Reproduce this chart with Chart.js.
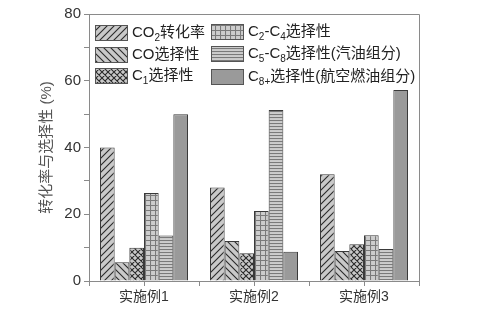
<!DOCTYPE html>
<html>
<head>
<meta charset="utf-8">
<script src="https://cdn.jsdelivr.net/npm/chart.js@4.4.0/dist/chart.umd.min.js"></script>
<style>
  html, body { margin: 0; padding: 0; background: #fff; }
  #wrap { width: 479px; height: 325px; }
</style>
</head>
<body>
<div id="wrap"><canvas id="chart"></canvas></div>
<script>
// ===================== DATA =====================
const categories = ['实施例1', '实施例2', '实施例3'];
const co2Conversion = [40, 28, 32];
const coSelectivity = [5.6, 12, 9];
const c1Selectivity = [10, 8.3, 11];
const c2c4Selectivity = [26.4, 21, 13.7];
const c5c8Selectivity = [13.6, 51.2, 9.6];
const c8Selectivity = [50, 8.8, 57.2];
const yTickLabels = [0, 20, 40, 60, 80];

const FONT = '"Liberation Sans", "Noto Sans CJK SC", sans-serif';

// ===================== HATCH PATTERNS =====================
const canvas = document.getElementById('chart');
const ctx = canvas.getContext('2d');

function makePattern(size, bg, line, draw) {
    const c = document.createElement('canvas');
    c.width = size;
    c.height = size;
    const g = c.getContext('2d');
    g.fillStyle = bg;
    g.fillRect(0, 0, size, size);
    g.strokeStyle = line;
    g.lineWidth = 1.1;
    g.beginPath();
    draw(g, size);
    g.stroke();
    return ctx.createPattern(c, 'repeat');
}

function slash(g, s) {
    g.moveTo(0, s); g.lineTo(s, 0);
    g.moveTo(-1, 1); g.lineTo(1, -1);
    g.moveTo(s - 1, s + 1); g.lineTo(s + 1, s - 1);
}
function backslash(g, s) {
    g.moveTo(0, 0); g.lineTo(s, s);
    g.moveTo(s - 1, -1); g.lineTo(s + 1, 1);
    g.moveTo(-1, s - 1); g.lineTo(1, s + 1);
}

const patSlash = makePattern(7, '#c9c9c9', '#2a2a2a', slash);
const patBackslash = makePattern(7, '#c9c9c9', '#2a2a2a', backslash);
const patCross = makePattern(6, '#c9c9c9', '#2a2a2a', (g, s) => { slash(g, s); backslash(g, s); });
const patGrid = makePattern(5, '#cdcdcd', '#7a7a7a', (g, s) => {
    g.moveTo(0, 0.5); g.lineTo(s, 0.5);
    g.moveTo(0.5, 0); g.lineTo(0.5, s);
});
const patHoriz = makePattern(3, '#cdcdcd', '#7a7a7a', (g, s) => {
    g.moveTo(0, 0.5); g.lineTo(s, 0.5);
});
const solidGray = '#9a9a9a';

// ===================== LEGEND (inside plot) =====================
const legendItems = [
    { fill: patSlash, x: 95, y: 33, text: [['CO'], ['2', 1], ['转化率']] },
    { fill: patBackslash, x: 95, y: 55, text: [['CO选择性']] },
    { fill: patCross, x: 95, y: 76, text: [['C'], ['1', 1], ['选择性']] },
    { fill: patGrid, x: 211, y: 32, text: [['C'], ['2', 1], ['-C'], ['4', 1], ['选择性']] },
    { fill: patHoriz, x: 211, y: 54, text: [['C'], ['5', 1], ['-C'], ['8', 1], ['选择性(汽油组分)']] },
    { fill: solidGray, x: 211, y: 77, text: [['C'], ['8+', 1], ['选择性(航空燃油组分)']] }
];

function drawRichText(c, segs, x, y) {
    c.textBaseline = 'middle';
    c.textAlign = 'left';
    c.fillStyle = '#222';
    segs.forEach(s => {
        const sub = s[1];
        c.font = (sub ? '10px ' : '15px ') + FONT;
        c.fillText(s[0], x, sub ? y + 5 : y);
        x += c.measureText(s[0]).width;
    });
}

const framePlugin = {
    id: 'frame',
    afterDraw(chart) {
        const c = chart.ctx;
        const a = chart.chartArea;
        c.save();
        // top and right border of the plot frame
        c.strokeStyle = '#8a8a8a';
        c.lineWidth = 1;
        c.beginPath();
        c.moveTo(a.left, a.top + 0.5);
        c.lineTo(a.right + 0.5, a.top + 0.5);
        c.lineTo(a.right + 0.5, a.bottom);
        c.stroke();

        // tick marks at category centres
        const xs = chart.scales.x;
        c.beginPath();
        categories.forEach((_, i) => {
            const px = Math.round(xs.getPixelForValue(i)) + 0.5;
            c.moveTo(px, a.bottom);
            c.lineTo(px, a.bottom + 5);
        });
        c.stroke();

        // legend
        legendItems.forEach(it => {
            c.fillStyle = it.fill;
            c.fillRect(it.x, it.y - 8, 33, 16);
            c.strokeStyle = '#555';
            c.strokeRect(it.x + 0.5, it.y - 7.5, 32, 15);
            drawRichText(c, it.text, it.x + 37, it.y);
        });
        c.restore();
    }
};

// ===================== CHART =====================
const series = [
    { data: co2Conversion, fill: patSlash },
    { data: coSelectivity, fill: patBackslash },
    { data: c1Selectivity, fill: patCross },
    { data: c2c4Selectivity, fill: patGrid },
    { data: c5c8Selectivity, fill: patHoriz },
    { data: c8Selectivity, fill: solidGray }
];

new Chart(canvas, {
    type: 'bar',
    data: {
        labels: categories,
        datasets: series.map(s => ({
            data: s.data,
            backgroundColor: s.fill,
            borderColor: '#3a3a3a',
            borderWidth: 1,
            barPercentage: 1,
            categoryPercentage: 0.8
        }))
    },
    options: {
        responsive: true,
        maintainAspectRatio: false,
        animation: false,
        layout: {
            padding: { top: 14, right: 60, left: 0, bottom: 0 }
        },
        plugins: {
            legend: { display: false },
            tooltip: { enabled: false }
        },
        scales: {
            x: {
                offset: true,
                grid: {
                    offset: true,
                    drawOnChartArea: false,
                    tickLength: 5,
                    color: '#8a8a8a'
                },
                border: { color: '#8a8a8a' },
                ticks: {
                    color: '#333',
                    padding: 3,
                    font: { family: FONT, size: 14 }
                },
                afterFit: scale => { scale.height = 44; }
            },
            y: {
                min: 0,
                max: 80,
                grid: {
                    drawOnChartArea: false,
                    tickLength: 5,
                    color: '#8a8a8a'
                },
                border: { color: '#8a8a8a' },
                ticks: {
                    stepSize: 10,
                    color: '#333',
                    padding: 3,
                    font: { family: FONT, size: 15 },
                    callback: v => yTickLabels.includes(v) ? v : ''
                },
                title: {
                    display: true,
                    text: '转化率与选择性 (%)',
                    color: '#555',
                    font: { family: FONT, size: 15 },
                    padding: { top: 38, bottom: 0 }
                },
                afterFit: scale => { scale.width = 89; }
            }
        }
    },
    plugins: [framePlugin]
});
</script>
</body>
</html>
